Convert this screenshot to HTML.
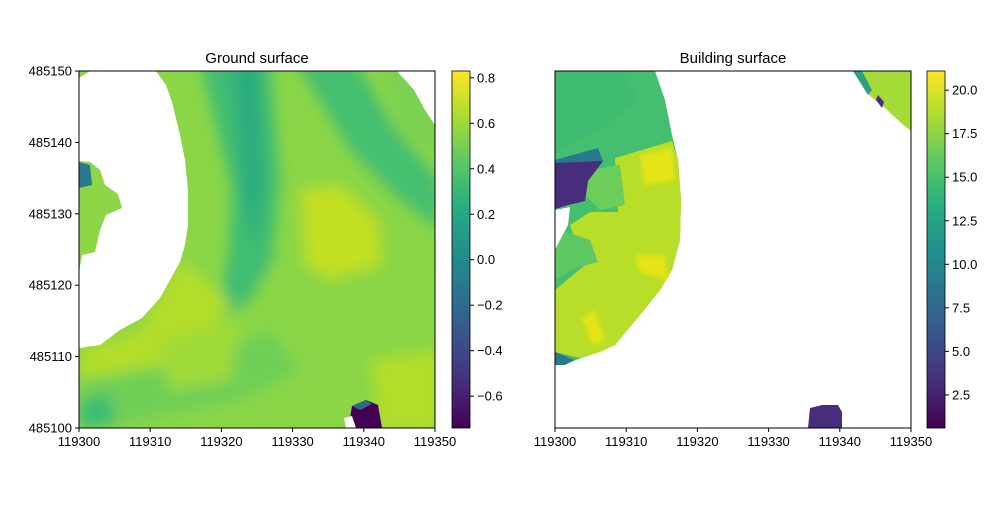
<!DOCTYPE html>
<html><head><meta charset="utf-8"><style>
body{margin:0;background:#fff;font-family:"Liberation Sans",sans-serif}
svg text{font-family:"Liberation Sans",sans-serif;font-size:13px;fill:#000}
</style></head><body>
<svg id="fig" width="1000" height="500" viewBox="0 0 1000 500">
<defs>
<linearGradient id="vir" x1="0" y1="1" x2="0" y2="0">
<stop offset="0" stop-color="#440154"/><stop offset="0.125" stop-color="#472d7b"/><stop offset="0.25" stop-color="#3b528b"/><stop offset="0.375" stop-color="#2c728e"/><stop offset="0.5" stop-color="#21918c"/><stop offset="0.625" stop-color="#28ae80"/><stop offset="0.75" stop-color="#5ec962"/><stop offset="0.875" stop-color="#addc30"/><stop offset="1" stop-color="#fde725"/>
</linearGradient>
<clipPath id="clipL"><rect x="79" y="71" width="356" height="357"/></clipPath>
<clipPath id="clipR"><rect x="555" y="71" width="356" height="357"/></clipPath>
<filter id="blur" x="-20%" y="-20%" width="140%" height="140%"><feGaussianBlur stdDeviation="7"/></filter>
<filter id="blur2"><feGaussianBlur stdDeviation="2"/></filter>
</defs>

<g id="left">
 <g clip-path="url(#clipL)">
  <rect x="79" y="71" width="356" height="357" fill="#8ad647"/>
  <g filter="url(#blur)">
   <path d="M200,60 L270,60 L280,180 L272,260 L250,300 L215,320 L228,260 L232,190 Z" fill="#40bd72"/>
   <path d="M232,60 L258,60 L264,180 L256,250 L244,200 Z" fill="#2aab7f"/>
   <path d="M295,60 L355,60 L395,130 L440,180 L440,230 L400,200 L350,150 Z" fill="#44bf70"/>
   <path d="M300,190 L340,185 L378,220 L382,265 L330,280 L305,265 Z" fill="#c2df23"/>
   <path d="M180,260 L230,300 L190,380 L100,420 L80,400 L80,350 L140,330 Z" fill="#b2dd2c"/>
   <path d="M380,60 L440,80 L440,160 L400,130 Z" fill="#7ad151"/>
   <path d="M370,360 L440,350 L440,430 L380,430 Z" fill="#b2dd2c"/>
   <path d="M79,380 L200,360 L270,330 L300,370 L240,400 L140,420 L79,430 Z" fill="#70cf57"/>
   <path d="M79,400 L110,395 L115,425 L79,428 Z" fill="#3bbb75"/>
   <path d="M160,340 L240,320 L230,380 L170,390 Z" fill="#a0da39"/>
  </g>
  <path d="M79,160 L95,165 L105,180 L120,192 L125,205 L110,215 L105,240 L95,255 L79,270 Z" fill="#8ed645"/>
  <path d="M79,162 L90,165 L92,185 L79,188 Z" fill="#2a788e"/>
  <path d="M79,71 L156,71 L166,85 L172,102 L180,135 L185,160 L188,190 L188,225 L185,245 L180,262 L170,280 L160,298 L142,318 L120,330 L100,345 L79,348 L79,272 L82,255 L95,252 L100,230 L106,215 L122,208 L118,194 L105,185 L100,170 L90,162 L79,161 L79,78 L90,71 Z" fill="#fff"/>
  <path d="M397,71 L435,71 L435,125 L425,110 L414,90 Z" fill="#fff"/>
  <path d="M352,406 L366,400 L378,405 L382,428 L356,428 L350,418 Z" fill="#440154"/>
  <path d="M352,406 L366,400 L372,404 L360,410 Z" fill="#31688e"/>
  <path d="M344,418 L352,416 L356,428 L346,428 Z" fill="#fff"/>
 </g>
 <rect x="79" y="71" width="356" height="357" fill="none" stroke="#000" stroke-width="1"/>
 <text x="257" y="63" text-anchor="middle" style="font-size:15px">Ground surface</text>
 <g id="lxt"></g>
 <g id="lyt"></g>
 <rect x="452" y="71" width="18" height="357" fill="url(#vir)" stroke="#000" stroke-width="0.8"/>
 <g id="lcb"></g>
</g>

<g id="right">
 <g clip-path="url(#clipR)">
  <path d="M555,71 L655,71 L665,100 L672,135 L678,160 L681,200 L680,240 L672,270 L660,290 L640,315 L615,345 L590,355 L570,362 L555,365 Z" fill="#44bf70"/>
  <path d="M555,71 L620,71 L640,100 L600,130 L555,150 Z" fill="#3fbc73" opacity="0.8"/>
  <path d="M615,158 L672,141 L678,160 L681,200 L680,240 L672,270 L660,290 L640,315 L615,345 L600,352 L580,358 L555,352 L555,290 L585,265 L575,240 L570,225 L590,212 L618,212 Z" fill="#b8de29"/>
  <path d="M640,155 L672,148 L675,180 L645,185 Z" fill="#e5e419" filter="url(#blur2)"/>
  <path d="M635,255 L665,255 L668,280 L640,272 Z" fill="#e5e419" filter="url(#blur2)"/>
  <path d="M582,318 L595,310 L605,340 L592,345 Z" fill="#e5e419" filter="url(#blur2)"/>
  <path d="M590,170 L620,165 L625,205 L600,210 L585,195 Z" fill="#6ccd5a"/>
  <path d="M555,228 L590,240 L598,262 L575,268 L555,280 Z" fill="#5ec962"/>
  <path d="M555,160 L598,148 L603,161 L588,181 L585,201 L568,205 L555,209 Z" fill="#2a788e"/>
  <path d="M555,163 L603,161 L588,181 L585,201 L568,205 L555,209 Z" fill="#472d7b"/>
  <path d="M555,210 L570,207 L568,225 L560,240 L555,250 Z" fill="#fff"/>
  <path d="M555,352 L575,360 L565,365 L555,365 Z" fill="#2a788e"/>
  <path d="M853,71 L911,71 L911,131 L900,122 L885,108 L870,96 L860,82 Z" fill="#a5db36"/>
  <path d="M853,71 L862,71 L872,90 L868,95 Z" fill="#2c9f87"/>
  <path d="M878,95 L884,102 L882,108 L876,100 Z" fill="#472d7b"/>
  <path d="M810,408 L822,405 L838,405 L842,412 L842,428 L808,428 Z" fill="#472d7b"/>
 </g>
 <rect x="555" y="71" width="356" height="357" fill="none" stroke="#000" stroke-width="1"/>
 <text x="733" y="63" text-anchor="middle" style="font-size:15px">Building surface</text>
 <g id="rxt"></g>
 <rect x="927" y="71" width="18" height="357" fill="url(#vir)" stroke="#000" stroke-width="0.8"/>
 <g id="rcb"></g>
</g>
</svg>
<script>
const xTicks=[119300,119310,119320,119330,119340,119350];
const yTicks=[485100,485110,485120,485130,485140,485150];
const groundCbTicks=[-0.6,-0.4,-0.2,0.0,0.2,0.4,0.6,0.8];
const groundCbRange=[-0.74,0.83];
const buildCbTicks=[2.5,5.0,7.5,10.0,12.5,15.0,17.5,20.0];
const buildCbRange=[0.6,21.1];
const xDomain=[119300,119350];
const yDomain=[485100,485150];
const NS='http://www.w3.org/2000/svg';
function mk(p,tag,a,txt){const e=document.createElementNS(NS,tag);for(const k in a)e.setAttribute(k,a[k]);if(txt!==undefined)e.textContent=txt;p.appendChild(e);return e;}
function xs(v,x0){return x0+(v-xDomain[0])/(xDomain[1]-xDomain[0])*356;}
function ys(v){return 428-(v-yDomain[0])/(yDomain[1]-yDomain[0])*357;}
function cbs(v,r){return 428-(v-r[0])/(r[1]-r[0])*357;}
function xAxis(id,x0){const g=document.getElementById(id);
 xTicks.forEach(t=>{const x=xs(t,x0);
  mk(g,'line',{x1:x,x2:x,y1:428,y2:432,stroke:'#000'});
  const tx=mk(g,'text',{x:x,y:446,'text-anchor':'middle'},String(t));
  
  });}
xAxis('lxt',79);xAxis('rxt',555);
const ly=document.getElementById('lyt');
yTicks.forEach(t=>{const y=ys(t);
 mk(ly,'line',{x1:75,x2:79,y1:y,y2:y,stroke:'#000'});
 const tx=mk(ly,'text',{x:72,y:y+4.5,'text-anchor':'end'},String(t));
 
 });
function cb(id,x,ticks,r,fmt){const g=document.getElementById(id);
 ticks.forEach(t=>{const y=cbs(t,r);
  mk(g,'line',{x1:x,x2:x+4,y1:y,y2:y,stroke:'#000'});
  const tx=mk(g,'text',{x:x+7,y:y+4.5},fmt(t));
  
  });}
cb('lcb',470,groundCbTicks,groundCbRange,t=>(t<0?'\u2212':'')+Math.abs(t).toFixed(1));
cb('rcb',945,buildCbTicks,buildCbRange,t=>t.toFixed(1));
</script>
</body></html>
